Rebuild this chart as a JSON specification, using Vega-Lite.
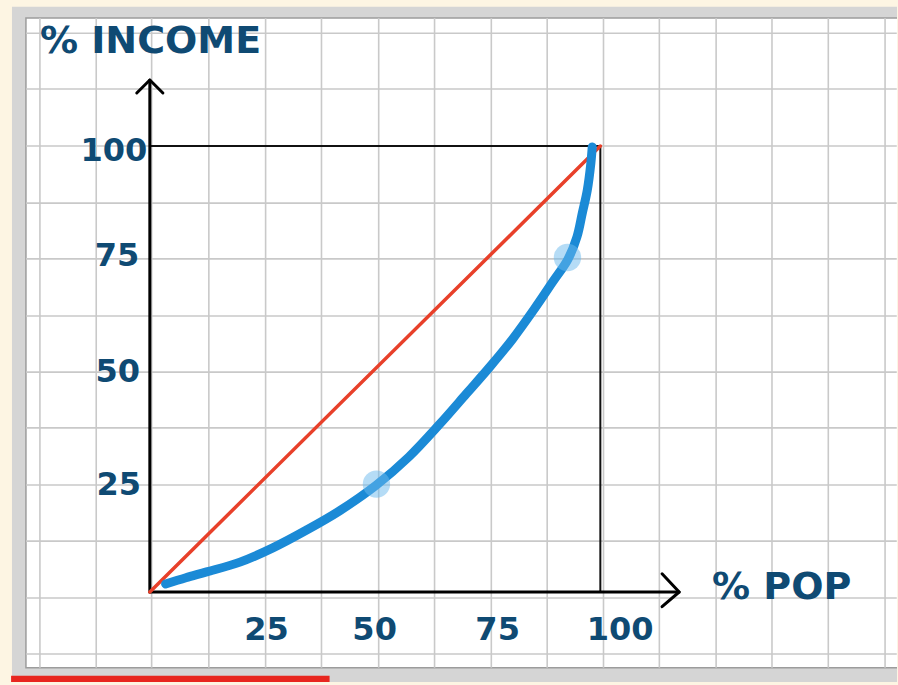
{
  "$schema": "https://vega.github.io/schema/vega-lite/v6.json",
  "width": 898,
  "height": 685,
  "autosize": {"type": "fit", "contains": "padding"},
  "padding": 0,
  "background": "#fdf5e3",
  "config": {"view": {"stroke": null}},
  "datasets": {
    "frame_outer": [{"x": -30.6, "x2": 166, "y": -20.2, "y2": 131.2}],
    "frame_inner": [{"x": -27.5, "x2": 167, "y": -17.0, "y2": 128.7}],
    "progress": [{"x": -30.8, "x2": 39.9, "y": -18.8, "y2": -20.2}],
    "grid_v": [
      {"x": -24.4, "y": -17.0, "y2": 128.7}, {"x": -11.9, "y": -17.0, "y2": 128.7}, {"x": 0.4, "y": -17.0, "y2": 128.7}, {"x": 13.1, "y": -17.0, "y2": 128.7},
      {"x": 25.7, "y": -17.0, "y2": 128.7}, {"x": 38.1, "y": -17.0, "y2": 128.7}, {"x": 50.8, "y": -17.0, "y2": 128.7}, {"x": 63.2, "y": -17.0, "y2": 128.7},
      {"x": 75.8, "y": -17.0, "y2": 128.7}, {"x": 88.2, "y": -17.0, "y2": 128.7}, {"x": 100.7, "y": -17.0, "y2": 128.7}, {"x": 113.1, "y": -17.0, "y2": 128.7},
      {"x": 125.7, "y": -17.0, "y2": 128.7}, {"x": 138.1, "y": -17.0, "y2": 128.7}, {"x": 150.6, "y": -17.0, "y2": 128.7}, {"x": 163.2, "y": -17.0, "y2": 128.7}
    ],
    "grid_h": [
      {"y": 125.3, "x": -27.5, "x2": 165.8}, {"y": 112.8, "x": -27.5, "x2": 165.8}, {"y": 100.0, "x": -27.5, "x2": 165.8}, {"y": 87.2, "x": -27.5, "x2": 165.8},
      {"y": 74.7, "x": -27.5, "x2": 165.8}, {"y": 61.9, "x": -27.5, "x2": 165.8}, {"y": 49.3, "x": -27.5, "x2": 165.8}, {"y": 36.8, "x": -27.5, "x2": 165.8},
      {"y": 24.0, "x": -27.5, "x2": 165.8}, {"y": 11.4, "x": -27.5, "x2": 165.8}, {"y": -1.35, "x": -27.5, "x2": 165.8}, {"y": -13.9, "x": -27.5, "x2": 165.8}
    ],
    "box": [
      {"seg": "box", "o": 0, "x": 0, "y": 100},
      {"seg": "box", "o": 1, "x": 100, "y": 100},
      {"seg": "box", "o": 2, "x": 100, "y": 0}
    ],
    "axes": [
      {"seg": "yaxis", "o": 0, "x": 0, "y": 0},
      {"seg": "yaxis", "o": 1, "x": 0, "y": 114.8},
      {"seg": "xaxis", "o": 0, "x": 0, "y": 0},
      {"seg": "xaxis", "o": 1, "x": 117.5, "y": 0},
      {"seg": "yarrow", "o": 0, "x": -2.9, "y": 111.9},
      {"seg": "yarrow", "o": 1, "x": 0, "y": 114.8},
      {"seg": "yarrow", "o": 2, "x": 2.9, "y": 111.9},
      {"seg": "xarrow", "o": 0, "x": 113.7, "y": 4.1},
      {"seg": "xarrow", "o": 1, "x": 117.5, "y": 0},
      {"seg": "xarrow", "o": 2, "x": 113.7, "y": -3.3}
    ],
    "equality": [{"o": 0, "x": 0, "y": 0}, {"o": 1, "x": 100, "y": 100}],
    "curve": [
      {"o": 0, "x": 3.5, "y": 1.8},
      {"o": 1, "x": 8.0, "y": 3.2},
      {"o": 2, "x": 12.6, "y": 4.5},
      {"o": 3, "x": 20.0, "y": 6.7},
      {"o": 4, "x": 27.3, "y": 9.9},
      {"o": 5, "x": 34.8, "y": 13.9},
      {"o": 6, "x": 42.1, "y": 18.2},
      {"o": 7, "x": 50.3, "y": 24.0},
      {"o": 8, "x": 57.5, "y": 30.3},
      {"o": 9, "x": 64.3, "y": 37.6},
      {"o": 10, "x": 70.3, "y": 44.5},
      {"o": 11, "x": 75.4, "y": 50.4},
      {"o": 12, "x": 80.5, "y": 56.7},
      {"o": 13, "x": 85.3, "y": 63.4},
      {"o": 14, "x": 89.4, "y": 69.5},
      {"o": 15, "x": 92.8, "y": 74.6},
      {"o": 16, "x": 94.8, "y": 79.6},
      {"o": 17, "x": 96.0, "y": 85.0},
      {"o": 18, "x": 97.1, "y": 90.1},
      {"o": 19, "x": 97.9, "y": 96.2},
      {"o": 20, "x": 98.2, "y": 99.8}
    ],
    "blobs": [{"x": 50.3, "y": 24.2}, {"x": 92.7, "y": 75.0}],
    "titles": [
      {"label": "% INCOME", "x": -24.4, "y": 123.3},
      {"label": "% POP", "x": 124.8, "y": 0.9}
    ],
    "ticks": [
      {"label": "100", "x": -8.0, "y": 98.9},
      {"label": "75", "x": -7.3, "y": 75.3},
      {"label": "50", "x": -7.1, "y": 49.3},
      {"label": "25", "x": -6.9, "y": 24.0},
      {"label": "25", "x": 25.9, "y": -8.5},
      {"label": "50", "x": 49.9, "y": -8.5},
      {"label": "75", "x": 77.2, "y": -8.5},
      {"label": "100", "x": 104.4, "y": -8.5}
    ]
  },
  "encoding": {
    "x": {"field": "x", "type": "quantitative", "axis": null, "scale": {"domain": [-33.26, 165.85], "nice": false, "zero": false}},
    "y": {"field": "y", "type": "quantitative", "axis": null, "scale": {"domain": [-20.85, 132.74], "nice": false, "zero": false}}
  },
  "layer": [
    {
      "data": {"name": "frame_outer"},
      "mark": {"type": "rect", "fill": "#d5d5d5", "clip": true},
      "encoding": {"x2": {"field": "x2"}, "y2": {"field": "y2"}}
    },
    {
      "data": {"name": "frame_inner"},
      "mark": {"type": "rect", "fill": "#ffffff", "stroke": "#9c9c9c", "strokeWidth": 1.5, "clip": true},
      "encoding": {"x2": {"field": "x2"}, "y2": {"field": "y2"}}
    },
    {
      "data": {"name": "progress"},
      "mark": {"type": "rect", "fill": "#e8261f"},
      "encoding": {"x2": {"field": "x2"}, "y2": {"field": "y2"}}
    },
    {
      "data": {"name": "grid_v"},
      "mark": {"type": "rule", "stroke": "#c9c9c9", "strokeWidth": 1.6},
      "encoding": {"y2": {"field": "y2"}}
    },
    {
      "data": {"name": "grid_h"},
      "mark": {"type": "rule", "stroke": "#c9c9c9", "strokeWidth": 1.6},
      "encoding": {"x2": {"field": "x2"}}
    },
    {
      "data": {"name": "box"},
      "mark": {"type": "line", "stroke": "#111111", "strokeWidth": 2},
      "encoding": {"detail": {"field": "seg"}, "order": {"field": "o"}}
    },
    {
      "data": {"name": "axes"},
      "mark": {"type": "line", "stroke": "#000000", "strokeWidth": 3, "strokeCap": "round", "strokeJoin": "round"},
      "encoding": {"detail": {"field": "seg"}, "order": {"field": "o"}}
    },
    {
      "data": {"name": "equality"},
      "mark": {"type": "line", "stroke": "#e8402a", "strokeWidth": 3.5, "strokeCap": "round"},
      "encoding": {"order": {"field": "o"}}
    },
    {
      "data": {"name": "curve"},
      "mark": {"type": "line", "stroke": "#1b8ad6", "strokeWidth": 9, "strokeCap": "round", "strokeJoin": "round", "interpolate": "catmull-rom"},
      "encoding": {"order": {"field": "o"}}
    },
    {
      "data": {"name": "blobs"},
      "mark": {"type": "circle", "fill": "#6cb9ee", "opacity": 0.5, "size": 750},
      "encoding": {}
    },
    {
      "data": {"name": "titles"},
      "mark": {"type": "text", "font": "DejaVu Sans", "fontWeight": "bold", "fontSize": 38, "fill": "#0f4a73", "align": "left", "baseline": "middle"},
      "encoding": {"text": {"field": "label"}}
    },
    {
      "data": {"name": "ticks"},
      "mark": {"type": "text", "font": "DejaVu Sans", "fontWeight": "bold", "fontSize": 32, "fill": "#0f4a73", "align": "center", "baseline": "middle"},
      "encoding": {"text": {"field": "label"}}
    }
  ]
}
